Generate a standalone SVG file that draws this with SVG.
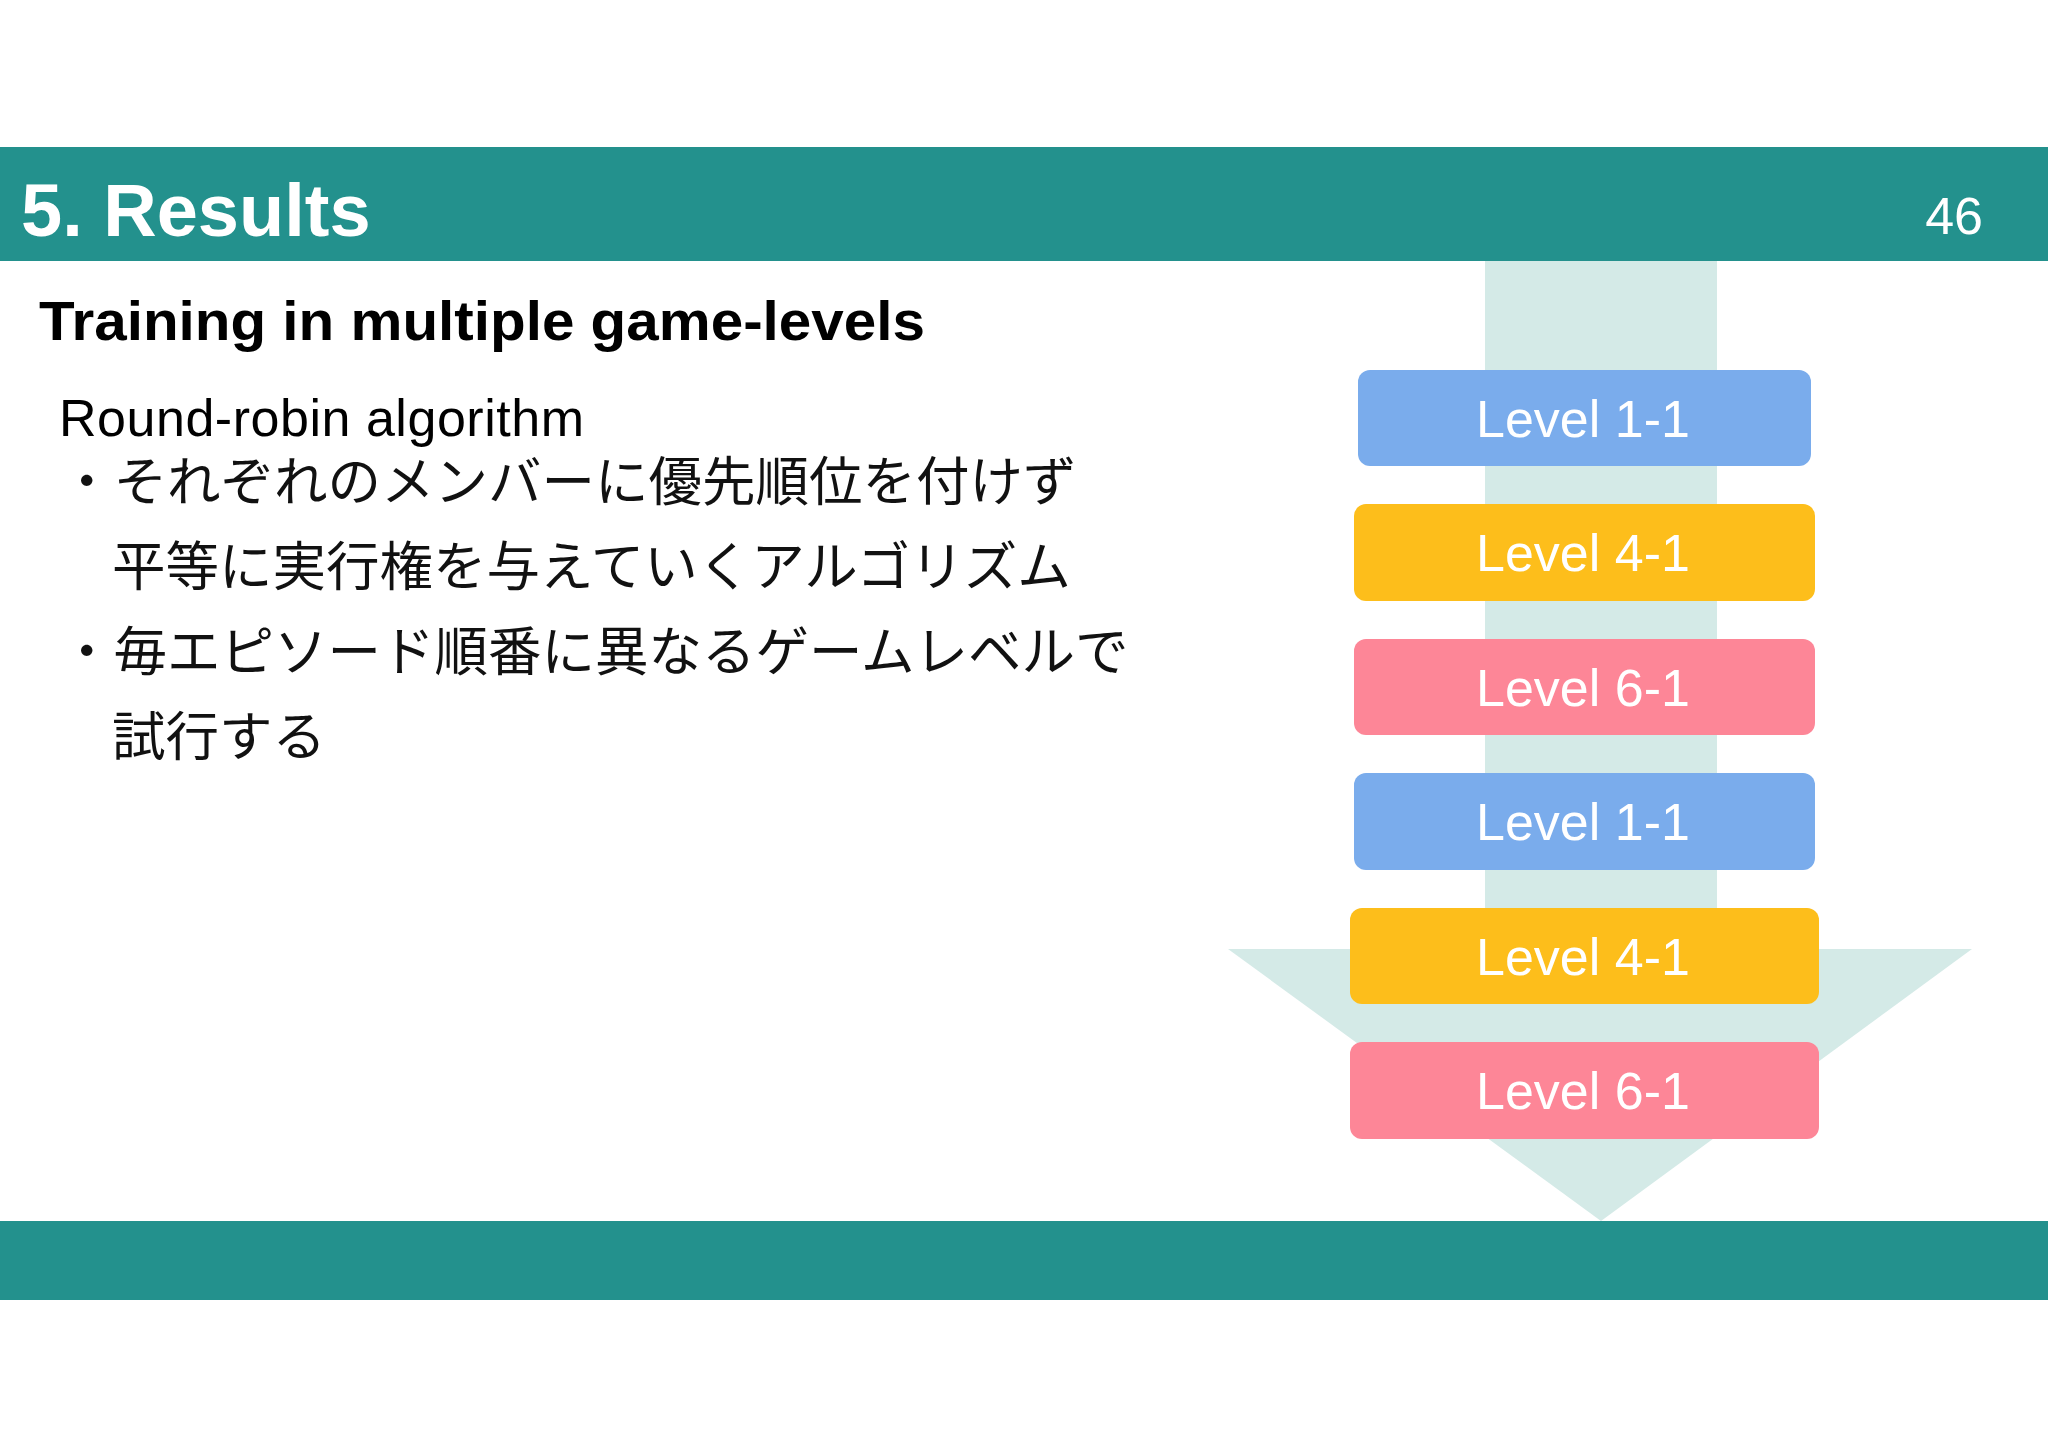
<svg xmlns="http://www.w3.org/2000/svg" width="2048" height="1447" viewBox="0 0 2048 1447">
<style>
.band{fill:#23918d}
.lv{font-family:"Helvetica Neue","Liberation Sans",Arial,sans-serif;font-size:52px;fill:#fff;text-anchor:middle}
.jp{font-family:"Noto Sans CJK JP","Noto Sans",sans-serif;font-size:53.5px;fill:#111}
.b{fill:#7aacec}.y{fill:#fdbe1b}.p{fill:#fd8697}
</style>
<rect width="2048" height="1447" fill="#fff"/>
<rect class="band" x="0" y="147" width="2048" height="114"/>
<rect class="band" x="0" y="1221" width="2048" height="79"/>
<text x="21" y="236" font-family="Liberation Sans,Arial,sans-serif" font-weight="bold" font-size="74" fill="#fff">5. Results</text>
<text x="1983" y="234" font-family="Liberation Sans,Arial,sans-serif" font-size="52" fill="#fff" text-anchor="end">46</text>
<text x="39" y="340" font-family="Liberation Sans,Arial,sans-serif" font-weight="bold" font-size="55" fill="#000" textLength="886" lengthAdjust="spacingAndGlyphs">Training in multiple game-levels</text>
<text x="59" y="436" font-family="Liberation Sans,Arial,sans-serif" font-size="52" fill="#000" textLength="525">Round-robin algorithm</text>
<text class="jp" x="60" y="501">・それぞれのメンバーに優先順位を付けず</text>
<text class="jp" x="112" y="586">平等に実行権を与えていくアルゴリズム</text>
<text class="jp" x="60" y="671">・毎エピソード順番に異なるゲームレベルで</text>
<text class="jp" x="112" y="756">試行する</text>
<g id="arrow">
<rect x="1485" y="261" width="232" height="690" fill="#d4eae7"/>
<polygon points="1228,949 1972,949 1601,1221" fill="#d4eae7"/>
</g>
<g id="connectors"></g>
<g id="n1"><rect class="b" x="1358" y="370" width="453" height="96" rx="12"/><text class="lv" x="1583" y="437">Level 1-1</text></g>
<g id="n2"><rect class="y" x="1354" y="504" width="461" height="97" rx="12"/><text class="lv" x="1583" y="571">Level 4-1</text></g>
<g id="n3"><rect class="p" x="1354" y="639" width="461" height="96" rx="12"/><text class="lv" x="1583" y="706">Level 6-1</text></g>
<g id="n4"><rect class="b" x="1354" y="773" width="461" height="97" rx="12"/><text class="lv" x="1583" y="840">Level 1-1</text></g>
<g id="n5"><rect class="y" x="1350" y="908" width="469" height="96" rx="12"/><text class="lv" x="1583" y="975">Level 4-1</text></g>
<g id="n6"><rect class="p" x="1350" y="1042" width="469" height="97" rx="12"/><text class="lv" x="1583" y="1109">Level 6-1</text></g>
</svg>
